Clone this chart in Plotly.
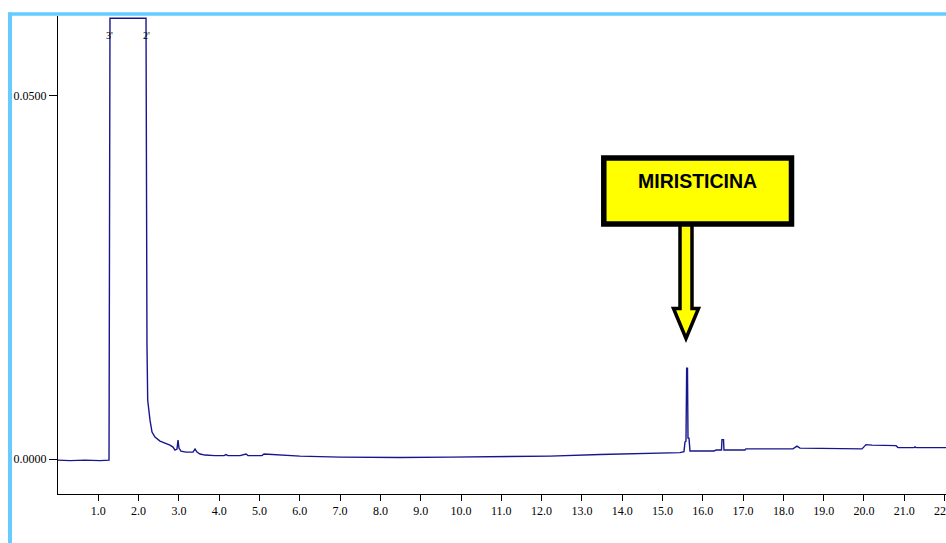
import plotly.graph_objects as go

# Retention time (min) and detector signal
time_min = [0.000, 0.298, 0.670, 1.042, 1.266, 1.290, 2.184, 2.191, 2.198, 2.208,
            2.226, 2.258, 2.283, 2.333, 2.407, 2.531, 2.655, 2.779, 2.854, 2.903,
            2.953, 2.978, 3.002, 3.052, 3.176, 3.350, 3.400, 3.449, 3.524, 3.648,
            3.896, 4.119, 4.169, 4.218, 4.516, 4.665, 4.715, 5.062, 5.112, 5.385,
            5.757, 6.005, 6.998, 8.486, 9.727, 10.968, 12.208, 13.449, 14.690, 15.434,
            15.533, 15.558, 15.583, 15.600, 15.620, 15.633, 15.658, 15.682, 16.278, 16.328,
            16.464, 16.476, 16.514, 16.526, 17.047, 17.072, 18.238, 18.337, 18.412, 19.950,
            20.050, 20.199, 20.794, 20.844, 21.241, 21.266, 21.290, 22.035]
signal = [-0.00014, -0.00021, -0.00014, -0.00021, -0.00014, 0.0607, 0.0607, 0.0482, 0.01868, 0.01566,
          0.00810, 0.00632, 0.00536, 0.00371, 0.00302, 0.00247, 0.00220, 0.00192, 0.00165, 0.00124,
          0.00137, 0.00261, 0.00151, 0.00110, 0.00096, 0.00096, 0.00137, 0.00096, 0.00069, 0.00055,
          0.00048, 0.00048, 0.00062, 0.00048, 0.00048, 0.00069, 0.00048, 0.00048, 0.00069, 0.00062,
          0.00048, 0.00041, 0.00027, 0.00021, 0.00027, 0.00034, 0.00041, 0.00062, 0.00076, 0.00089,
          0.00103, 0.00234, 0.00247, 0.01250, 0.01250, 0.00288, 0.00288, 0.00110, 0.00110, 0.00124,
          0.00124, 0.00268, 0.00268, 0.00124, 0.00124, 0.00140, 0.00140, 0.00179, 0.00151, 0.00140,
          0.00199, 0.00192, 0.00185, 0.00158, 0.00158, 0.00168, 0.00158, 0.00158]

x_ticks = [float(v) for v in range(1, 23)]
y_ticks = [0.0, 0.05]
peak_label = "MIRISTICINA"
top_marks = [(1.29, "3'"), (2.19, "2'")]

W, H = 946, 543
PLOT_L, PLOT_T, PLOT_R, PLOT_B = 58, 16, 946, 494   # plot area in window pixels
L, T, R, B = PLOT_L, PLOT_T, W - PLOT_R, H - PLOT_B
PW, PH = PLOT_R - PLOT_L, PLOT_B - PLOT_T

def px(x):
    return (x - PLOT_L) / PW

def py(y):
    return (PLOT_B - y) / PH

fig = go.Figure()
fig.add_trace(go.Scatter(x=time_min, y=signal, mode="lines",
                         line=dict(color="#16168f", width=1.4), hoverinfo="skip"))

font_ax = dict(family="Liberation Serif, Times New Roman, serif", size=12, color="black")
fig.update_layout(
    width=W, height=H,
    margin=dict(l=L, r=R, t=T, b=B, pad=0),
    paper_bgcolor="white", plot_bgcolor="white",
    showlegend=False,
    xaxis=dict(range=[0, 22.035], tickvals=x_ticks, ticktext=[f"{v:.1f}" for v in x_ticks],
               showgrid=False, zeroline=False, showline=True, linecolor="black", linewidth=1,
               ticks="outside", ticklen=6, tickcolor="black", tickfont=font_ax, automargin=False,
               ticklabeloverflow="allow"),
    yaxis=dict(range=[-0.00481, 0.0610], tickvals=y_ticks, ticktext=[f"{v:.4f}" for v in y_ticks],
               showgrid=False, zeroline=False, showline=True, linecolor="black", linewidth=1,
               ticks="outside", ticklen=8, tickcolor="black", tickfont=font_ax, automargin=False),
)

shapes = []
# light blue frame (left and top)
shapes.append(dict(type="line", xref="paper", yref="paper", x0=px(10), x1=px(10), y0=py(12.5), y1=py(560),
                   line=dict(color="#66CCFF", width=4)))
shapes.append(dict(type="line", xref="paper", yref="paper", x0=px(8), x1=px(960), y0=py(14), y1=py(14),
                   line=dict(color="#66CCFF", width=3.5)))
# arrow
pts = [(680, 222), (680, 308.5), (673.5, 308.5), (686, 338.5), (698.5, 308.5), (692, 308.5), (692, 222)]
path = "M " + " L ".join(f"{px(a):.5f},{py(b):.5f}" for a, b in pts) + " Z"
shapes.append(dict(type="path", xref="paper", yref="paper", path=path,
                   fillcolor="#FFFF00", line=dict(color="black", width=3.5)))
# label box
shapes.append(dict(type="rect", xref="paper", yref="paper", x0=px(603.8), x1=px(791.5),
                   y0=py(224), y1=py(158), fillcolor="#FFFF00", line=dict(color="black", width=5.5)))
fig.update_layout(shapes=shapes)

fig.add_annotation(xref="paper", yref="paper", x=px(697.7), y=py(181), text=f"<b>{peak_label}</b>",
                   showarrow=False, xanchor="center", yanchor="middle",
                   font=dict(family="Liberation Sans, Arial, sans-serif", size=19.5, color="black"))
for tx, lab in top_marks:
    fig.add_annotation(x=tx, y=py(35), xref="x", yref="paper", text=lab, showarrow=False,
                       xanchor="center", yanchor="middle",
                       font=dict(family="Liberation Serif, serif", size=10, color="black"))

fig.write_html("out.html", config={"displayModeBar": False},
               post_script="document.body.style.margin='0';document.body.style.overflow='hidden';")
